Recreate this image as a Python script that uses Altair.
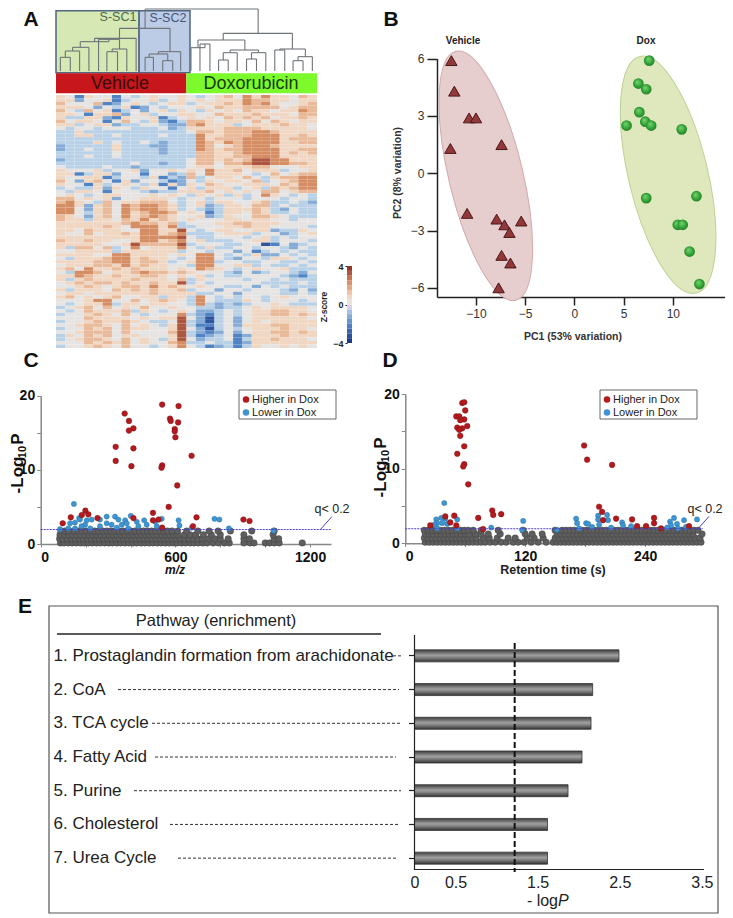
import altair as alt
import pandas as pd

W, H = 717, 906
FONT = "Liberation Sans"

def X(p): return p - 8
def Y(p): return p - 8
def S(domain, rng): return alt.Scale(domain=domain, range=rng, nice=False, zero=False)

# ---------- Panel A data ----------
heat_rows = [
"5415441434544543456475755465","5524451344534545455576655455","6444612454345534556576754456",
"5554243512434445465566664566","6436451342453543545465545576","5541556245344554465556555466",
"5335521544513454546565645565","6455414643521366545546465455","5534552334432267555345556554",
"4344344433342355556666555554","3353333333333346656667765555","3355334333343337556667775565",
"3333333333333337566677775666","3333534334323337657677775566","2333335333223337645677765555",
"2334335333323337656677775566","3333334333323336655677775656","3334334333333336655667775555",
"2333333333333346656568877555","3333333343323346646678877665","4333343323333345545556644455",
"5444534452445454755645553445","5513552441442364755543464566","5445513443513263455464356677",
"6425641524431243545546345677","5441534543515254654455546577","3433525435441453555345365677",
"4355414443233555645454664566","4543455444545435453534754343","6645452445554344344434443443",
"6754364556664345355445633432","7752564767765345235546634333","7742564767765343235556532433",
"7743564756776454135546533433","6542564756765445235446654333","6553554657565454445545544344",
"5555555676656344455665554444","5555565477757334445565544443","5546555447755843455445523354",
"5446455657756733345553442345","5555555557777843344434534344","6556554457756745333445534443",
"5555544586666834443344014234","5366463474555743533443443243","4455553555555344344241343433",
"5555447755554547743435224343","4355567756554347743244355434","5555667756653457734433443343",
"4555665756554437744553433434","5647556565554547654345445333","4377645567665654443242344324",
"5576556556654545343344443213","5356555565554635444434434333","4565665655655834344444333343",
"4456545665756545443342434333","5355546565655634424434443242","4554555555655553344244443343",
"5645456445535537434344345444","4445774464565437433354344434","4345573554554437323234454333",
"3456464546445443323345455554","4346555635434542234345566554","3445654643444732134345566565",
"4446555545455842034245555554","3445655654334832034245455555","4456654645435831134255566555",
"3446564655445842034345556554","4456664644446832124245566565","3546564554445831234125556555",
"3456654645435842334135565554","4446565645446733433125555555","3445654644345743123135445454",
]
level_z = [-3.4, -2.4, -1.5, -0.7, 0.0, 0.55, 1.2, 2.1, 3.0]
z_stops = [-4, -2.4, -0.7, 0, 0.7, 2.2, 4]
z_cols = ["#1f3a84", "#4f83c4", "#b9d1e7", "#e6e4e2", "#f3d3bb", "#d3885e", "#7a1020"]
colorbar_z = [-4, -3.5, -3, -2.5, -2, -1.5, -1, -0.5, 0, 0.5, 1, 1.5, 2, 2.5, 3, 3.5]

# brackets: left x, right x, top, left bottom, right bottom (dendrogram units)
dendro = [
(90,120,172,213,213),(105,148,153,172,213),(127,176,142,153,213),(230,262,155,213,213),
(246,290,147,155,213),(205,268,118,213,147),(150,236,125,142,118),(193,318,115,125,213),
(345,370,172,213,213),(398,428,182,213,213),(357,413,162,172,182),(385,452,155,162,213),
(268,420,85,115,155),(345,685,27,85,100),(510,540,132,213,213),(483,525,143,213,132),
(566,595,180,213,213),(580,622,158,180,213),(650,680,177,213,213),(665,708,158,177,213),
(601,686,150,158,158),(504,645,120,143,150),(735,765,150,213,213),(790,820,182,213,213),
(805,848,170,182,213),(750,827,147,150,170),(580,788,100,120,147),
]

# ---------- Panel B data ----------
veh_pc1 = [-12.5,-12.2,-10.7,-10.0,-12.6,-7.4,-10.9,-7.9,-7.1,-5.4,-6.6,-7.4,-6.5,-7.7]
veh_pc2 = [5.9,4.3,2.9,2.9,1.3,1.5,-2.1,-2.4,-2.7,-2.5,-3.1,-4.3,-4.7,-6.0]
dox_pc1 = [7.6,6.5,7.3,6.6,7.2,7.8,5.3,10.9,12.4,7.3,10.5,11.0,11.7,12.7]
dox_pc2 = [5.9,4.7,4.4,3.2,2.7,2.5,2.5,2.3,-1.2,-1.3,-2.7,-2.7,-4.1,-5.8]

# ---------- Panel C data ----------
c_red_x = [374,393,413,393,334,413,334,404,541,614,576,579,612,597,597,600,672,541,538,608,570,500,694,903,930,98,134,199,183,212,253,413,500,525,541,678]
c_red_y = [17.6,16.6,15.6,15.3,13.1,12.9,11.2,10.5,18.8,18.6,16.9,16.6,16.4,15.5,15.2,14.4,11.9,10.6,10.3,7.9,5.0,4.2,3.6,3.3,3.1,2.8,3.6,4.5,3.9,4.0,3.5,3.5,3.2,3.3,2.2,2.4]
c_blue_x = [148,171,401,294,331,376,539,614,774,796,838,673,618,1037,131,153,175,205,198,227,264,264,294,316,346,361,383,390,428,461,435,472,510,517,86,123,182,221,339,153]
c_blue_y = [5.4,3.5,3.8,3.7,3.7,3.2,3.4,3.2,3.4,3.3,2.1,2.2,2.5,1.8,2.8,2.9,3.3,3.2,2.6,3.3,3.3,2.4,2.8,2.6,3.3,2.6,2.8,2.1,3.0,3.2,2.4,2.6,3.0,2.4,2.0,2.1,2.4,2.1,2.2,2.1]
c_gray_t1 = [88,104,123,140,158,177,194,213,230,249,266,285,303,320,339,356,375,392,411,428,447,464,483,500,519,536,555,572,591,608,628,645,666,683,702,722,741,768,792,818,840,905,932,950,1000,1020,1040,1062,1165]
c_gray_t2 = [84,100,118,137,154,172,190,208,226,244,262,280,298,316,334,352,370,388,406,424,442,460,478,496,514,532,550,568,586,604,622,640,660,680,700,720,748,775,800,835,905,930,1040,1060]
c_gray_t3 = [86,106,124,142,160,178,196,214,232,250,268,286,304,322,340,358,376,394,412,430,448,466,484,502,520,538,556,574,592,610,640,665,690,725,760,800,905,1035]
c_gray_t4 = [90,108,126,148,166,185,202,222,240,258,276,295,312,330,348,366,384,402,420,440,458,476,494,512,530,548,565,585,610,650,700,750,790,845,940,1040]

# ---------- Panel D data ----------
d_red_x = [57,59,60,51,54,59,55,52,57,62,54,55,59,52,59,58,63,49,40,45,51,25,73,87,88,96,78,179,182,207,194,197,211,227,232,241,249,249,256,284,198]
d_red_y = [18.8,18.9,17.8,17.0,17.0,16.6,16.5,15.5,15.4,15.7,15.2,14.4,13.0,12.0,10.6,10.3,7.9,3.7,3.6,2.8,2.4,2.4,3.4,4.4,3.8,3.9,1.9,13.1,11.2,10.5,4.9,4.2,3.3,3.2,2.3,2.3,3.4,2.7,2.0,2.3,3.1]
d_blue_x = [39,31,36,40,32,37,42,29,52,86,118,117,152,171,172,174,181,183,187,193,193,202,203,194,206,217,218,226,265,269,266,272,279,281,262,273,292,52,32]
d_blue_y = [5.4,3.2,3.4,3.3,2.7,2.7,2.6,2.5,3.2,2.1,3.0,1.8,1.8,3.3,2.7,2.0,2.7,2.6,2.2,3.7,3.2,3.8,3.1,2.5,2.1,2.8,2.4,2.3,2.9,3.4,2.4,2.6,3.1,2.2,2.1,2.0,3.2,2.0,2.0]
d_gray_t1 = [20,24,28,32,36,40,44,48,52,56,60,64,68,72,76,80,85,90,96,101,108,113,119,126,133,141,148,152,156,160,164,168,172,176,180,184,188,192,196,200,204,208,212,216,220,224,228,232,236,240,244,248,252,256,260,264,268,272,276,280,284,288,292,296]
d_gray_t2 = [19,23,27,31,35,39,43,47,51,55,59,63,67,71,78,84,92,103,110,122,129,138,150,154,158,162,166,170,174,178,182,186,190,194,198,202,206,210,214,218,222,226,230,234,238,242,246,250,254,258,262,266,270,274,278,282,286,290,295]
d_gray_t3 = [20,24,28,32,36,40,44,48,52,56,60,64,70,76,83,95,120,127,137,152,156,160,164,168,172,176,180,184,188,192,196,200,204,208,212,216,220,224,228,232,236,240,244,248,252,256,260,264,268,272,276,280,284,288,297]
d_gray_t4 = [19,23,27,31,35,39,43,47,51,55,59,63,68,76,93,118,150,157,161,165,169,173,177,181,185,189,193,197,201,205,209,213,217,221,225,229,233,237,241,245,249,253,257,261,265,269,273,277,281,285,289,293]

# ---------- Panel E data ----------
pathways = ["1. Prostaglandin formation from arachidonate","2. CoA","3. TCA cycle","4. Fatty Acid","5. Purine","6. Cholesterol","7. Urea Cycle"]
enrich = [2.49, 2.17, 2.15, 2.04, 1.87, 1.62, 1.62]
leader_start = [393, 118, 152, 155, 134, 170, 178]
leader_end = [402, 399, 400, 396, 401, 398, 397]
threshold = 1.22

layers = []

def txt(label, x, y, size=11, weight="normal", color="#222", angle=0, align="center", style="normal"):
    layers.append(alt.Chart(pd.DataFrame({"t": [label]})).mark_text(
        fontSize=size, fontWeight=weight, color=color, angle=angle, align=align,
        baseline="middle", fontStyle=style, font=FONT
    ).encode(text="t:N", x=alt.value(X(x)), y=alt.value(Y(y))))

# ---------- Panel A ----------
dx = S([77, 862], [X(56), X(317)])
dy = S([0, 213], [Y(0), Y(71)])
hm_cell = pd.DataFrame([
    {"c": c, "c2": c + 1, "r": r, "r2": r + 1, "z": level_z[int(ch)]}
    for r, row in enumerate(heat_rows) for c, ch in enumerate(row)
])
layers.append(alt.Chart(hm_cell).mark_rect(strokeWidth=0).encode(
    x=alt.X("c:Q", scale=S([0, 28], [X(56), X(317)]), axis=None), x2="c2:Q",
    y=alt.Y("r:Q", scale=S([0, len(heat_rows)], [Y(95), Y(348)]), axis=None), y2="r2:Q",
    color=alt.Color("z:Q", scale=alt.Scale(domain=z_stops, range=z_cols), legend=None)))

boxes = pd.DataFrame({"x": [77, 327], "x2": [327, 480], "y": [32, 32], "y2": [218, 218], "f": ["#d6e8b4", "#bccbe6"]})
layers.append(alt.Chart(boxes).mark_rect(stroke="#4f6580", strokeWidth=1.5).encode(
    x=alt.X("x:Q", scale=dx, axis=None), x2="x2:Q",
    y=alt.Y("y:Q", scale=dy, axis=None), y2="y2:Q",
    color=alt.Color("f:N", scale=None, legend=None)))

segs = []
for xl, xr, top, bl, br in dendro:
    segs += [(xl, xr, top, top), (xl, xl, top, bl), (xr, xr, top, br)]
layers.append(alt.Chart(pd.DataFrame(segs, columns=["x", "x2", "y", "y2"])).mark_rule(color="#6f7478", strokeWidth=1.1).encode(
    x=alt.X("x:Q", scale=dx, axis=None), x2="x2:Q",
    y=alt.Y("y:Q", scale=dy, axis=None), y2="y2:Q"))

group_bar = pd.DataFrame({"x": [77, 469], "x2": [469, 862], "f": ["#c8161d", "#7dfa2c"], "y": [220, 220], "y2": [280, 280]})
layers.append(alt.Chart(group_bar).mark_rect().encode(
    x=alt.X("x:Q", scale=dx, axis=None), x2="x2:Q",
    y=alt.Y("y:Q", scale=dy, axis=None), y2="y2:Q",
    color=alt.Color("f:N", scale=None, legend=None)))

txt("Vehicle", 120, 84, size=18, color="#3a0c0c")
txt("Doxorubicin", 251, 84, size=18, color="#143c08")
txt("S-SC1", 118, 17, size=12.5, color="#4d6b4d")
txt("S-SC2", 168, 18, size=12.5, color="#44557a")

cb = pd.DataFrame({"z": colorbar_z})
cb["z2"] = cb["z"] + 0.5
layers.append(alt.Chart(cb).mark_rect().encode(
    x=alt.value(X(347)), x2=alt.value(X(352)),
    y=alt.Y("z:Q", scale=S([-4, 4], [Y(343), Y(266)]),
            axis=alt.Axis(orient="left", offset=-X(347), values=[-4, 0, 4], title=None, domain=False,
                          tickSize=2, tickColor="#222", labelFontSize=9, labelFontWeight="bold", labelColor="#222",
                          labelPadding=2, grid=False, format="d", labelFont=FONT)),
    y2="z2:Q",
    color=alt.Color("z:Q", scale=alt.Scale(domain=z_stops, range=z_cols), legend=None)))
txt("Z-score", 324, 307, size=8.5, weight="bold", angle=270)

# ---------- Panel B ----------
bx = S([-13.96, 15.3], [X(437), X(725)])
by = S([-6.48, 6.0], [Y(297), Y(58.7)])
def ell(b, k=0.5523):
    return (f"M0,-1 C{k*b:.3f},-1 {b},{-k} {b},0 C{b},{k} {k*b:.3f},1 0,1 "
            f"C{-k*b:.3f},1 {-b},{k} {-b},0 C{-b},{-k} {-k*b:.3f},-1 0,-1 Z")
ell_veh = pd.DataFrame({"x": [-9.0], "y": [-0.13]})
ell_dox = pd.DataFrame({"x": [9.52], "y": [-0.08]})
layers.append(alt.Chart(ell_veh).mark_point(shape=ell(0.289), filled=True, size=65536, angle=346.5,
        fill="#e6cdce", stroke="#d3a9ab", strokeWidth=1, opacity=1).encode(
    x=alt.X("x:Q", scale=bx,
            axis=alt.Axis(orient="bottom", offset=Y(297) - H, values=[-10, -5, 0, 5, 10], title=None, grid=False,
                          domainColor="#222", domainWidth=1.5, tickColor="#222", tickWidth=1.5, tickSize=8,
                          labelFontSize=12, labelColor="#333", labelPadding=3, labelFont=FONT)),
    y=alt.Y("y:Q", scale=by,
            axis=alt.Axis(orient="left", offset=-X(437), values=[-6, -3, 0, 3, 6], title=None, grid=False,
                          domainColor="#222", domainWidth=1.5, tickColor="#222", tickWidth=1.5, tickSize=10,
                          labelFontSize=12, labelColor="#333", labelPadding=3, labelFont=FONT))))
layers.append(alt.Chart(ell_dox).mark_point(shape=ell(0.326), filled=True, size=59150, angle=346.6,
        fill="#dfe8bd", stroke="#bdd093", strokeWidth=1, opacity=1).encode(
    x=alt.X("x:Q", scale=bx, axis=None), y=alt.Y("y:Q", scale=by, axis=None)))
layers.append(alt.Chart(pd.DataFrame({"x": veh_pc1, "y": veh_pc2})).mark_point(
        shape="triangle-up", filled=True, size=130, fill="#93383a", stroke="#4a1818", strokeWidth=1, opacity=1).encode(
    x=alt.X("x:Q", scale=bx, axis=None), y=alt.Y("y:Q", scale=by, axis=None)))
green = alt.Gradient(gradient="radial", x1=0.4, y1=0.35, r1=0.05, x2=0.5, y2=0.5, r2=0.6,
                     stops=[alt.GradientStop(offset=0, color="#6fd06a"), alt.GradientStop(offset=0.6, color="#2f9f33"),
                            alt.GradientStop(offset=1, color="#1c6e22")])
layers.append(alt.Chart(pd.DataFrame({"x": dox_pc1, "y": dox_pc2})).mark_point(
        shape="circle", filled=True, size=115, color=green, opacity=1).encode(
    x=alt.X("x:Q", scale=bx, axis=None), y=alt.Y("y:Q", scale=by, axis=None)))
txt("Vehicle", 463, 41, size=10, weight="bold")
txt("Dox", 646, 41, size=10, weight="bold")
txt("PC1 (53% variation)", 573, 337, size=10.5, weight="bold", color="#333")
txt("PC2 (8% variation)", 398, 173, size=10.5, weight="bold", color="#333", angle=270)

# ---------- Panels C / D ----------
def volcano(x0, x1, dom_end, y20, y0, ticks, lab_every, reds, blues, grays, q_seg, q_txt, leg_x, title_y, log_x):
    sx = S([0, dom_end], [X(x0), X(x1)])
    sy = S([0, 20], [Y(y0), Y(y20)])
    rows = []
    for yv, xs in zip([0.15, 0.7, 1.25, 1.75], grays):
        rows += [{"x": v, "y": yv} for v in xs]
    layers.append(alt.Chart(pd.DataFrame(rows)).mark_circle(size=42, color="#5e5e5e", stroke="#3a3a3a", strokeWidth=0.4, opacity=1).encode(
        x=alt.X("x:Q", scale=sx, axis=alt.Axis(orient="bottom", offset=Y(y0) - H, values=ticks, title=None, grid=False,
                domainColor="#888", domainWidth=1.5, tickColor="#888", tickSize=3, labelFontSize=14, labelFontWeight="bold",
                labelColor="#111", labelPadding=3, labelFont=FONT, labelOverlap=False,
                labelExpr=f"datum.value % {lab_every} == 0 ? datum.label : ''", format="d")),
        y=alt.Y("y:Q", scale=sy, axis=alt.Axis(orient="left", offset=-X(x0), values=[0, 5, 10, 15, 20], title=None, grid=False,
                domainColor="#888", domainWidth=1.5, tickColor="#888", tickSize=4, labelFontSize=14, labelFontWeight="bold",
                labelColor="#111", labelPadding=2, labelFont=FONT, labelOverlap=False,
                labelExpr="datum.value % 10 == 0 ? datum.label : ''"))))
    layers.append(alt.Chart(pd.DataFrame({"x": blues[0], "y": blues[1]})).mark_circle(size=27, color="#3f95d2", stroke="#1f6aa0", strokeWidth=0.4, opacity=1).encode(
        x=alt.X("x:Q", scale=sx, axis=None), y=alt.Y("y:Q", scale=sy, axis=None)))
    layers.append(alt.Chart(pd.DataFrame({"x": reds[0], "y": reds[1]})).mark_circle(size=32, color="#b31a1e", stroke="#7a1014", strokeWidth=0.4, opacity=1).encode(
        x=alt.X("x:Q", scale=sx, axis=None), y=alt.Y("y:Q", scale=sy, axis=None)))
    layers.append(alt.Chart(pd.DataFrame({"x": [0], "x2": [dom_end], "y": [1.95]})).mark_rule(color="#4b3fc0", strokeWidth=1, strokeDash=[2, 1]).encode(
        x=alt.X("x:Q", scale=sx, axis=None), x2="x2:Q", y=alt.Y("y:Q", scale=sy, axis=None)))
    layers.append(alt.Chart(pd.DataFrame([q_seg], columns=["x", "x2", "y", "y2"])).mark_rule(color="#4b3fc0", strokeWidth=1).encode(
        x=alt.X("x:Q", scale=sx, axis=None), x2="x2:Q", y=alt.Y("y:Q", scale=sy, axis=None), y2="y2:Q"))
    txt("q< 0.2", q_txt, 509, size=12.5, color="#222")
    layers.append(alt.Chart(pd.DataFrame({"a": [1]})).mark_rect(fill="white", stroke="#666", strokeWidth=1).encode(
        x=alt.value(X(leg_x)), x2=alt.value(X(leg_x + 97)), y=alt.value(Y(390)), y2=alt.value(Y(419))))
    layers.append(alt.Chart(pd.DataFrame({"a": [1]})).mark_circle(size=42, color="#b31a1e", opacity=1).encode(
        x=alt.value(X(leg_x + 7)), y=alt.value(Y(399.5))))
    layers.append(alt.Chart(pd.DataFrame({"a": [1]})).mark_circle(size=42, color="#3f95d2", opacity=1).encode(
        x=alt.value(X(leg_x + 7)), y=alt.value(Y(412.5))))
    txt("Higher in Dox", leg_x + 13, 399.5, size=11, align="left")
    txt("Lower in Dox", leg_x + 13, 412.5, size=11, align="left")
    txt("-Log", log_x, title_y, size=17, weight="bold", color="#111", angle=270)
    txt("10", log_x + 5, title_y - 23, size=11, weight="bold", color="#111", angle=270)
    txt("P", log_x, title_y - 36, size=17, weight="bold", color="#111", angle=270)

volcano(40.7, 331, 1293, 395.7, 544, [0, 200, 400, 600, 800, 1000, 1200], 600,
        (c_red_x, c_red_y), (c_blue_x, c_blue_y), [c_gray_t1, c_gray_t2, c_gray_t3, c_gray_t4],
        (1245, 1297, 1.93, 3.7), 332, 239, 475, 18)
txt("m/z", 175, 570, size=12, weight="bold", style="italic", color="#111")
volcano(405.3, 703, 298, 394, 543.3, [0, 60, 120, 180, 240], 120,
        (d_red_x, d_red_y), (d_blue_x, d_blue_y), [d_gray_t1, d_gray_t2, d_gray_t3, d_gray_t4],
        (292, 304, 1.8, 3.6), 705, 600, 479, 381)
txt("Retention time (s)", 553, 570, size=12.5, weight="bold", color="#222")

# ---------- Panel E ----------
layers.append(alt.Chart(pd.DataFrame({"a": [1]})).mark_rect(filled=False, stroke="#555", strokeWidth=1.2).encode(
    x=alt.value(X(49)), x2=alt.value(X(718)), y=alt.value(Y(606)), y2=alt.value(Y(913))))
ex = S([0, 3.52], [X(414.5), X(703.5)])
ey = alt.Scale(domain=pathways, range=[Y(639), Y(875)])
bar_fill = alt.Gradient(gradient="linear", x1=0, x2=0, y1=0, y2=1, stops=[
    alt.GradientStop(offset=0, color="#3e3e3e"), alt.GradientStop(offset=0.45, color="#a0a0a0"),
    alt.GradientStop(offset=0.6, color="#8a8a8a"), alt.GradientStop(offset=1, color="#333333")])
e_df = pd.DataFrame({"p": pathways, "v": enrich, "z": [0] * 7, "s": leader_start, "e": leader_end})
layers.append(alt.Chart(e_df).mark_bar(size=12, color=bar_fill, stroke="#333", strokeWidth=0.8).encode(
    x=alt.X("z:Q", scale=ex, axis=alt.Axis(orient="bottom", offset=Y(869) - H, values=[0, 0.5, 1.5, 2.5, 3.5], title=None, grid=False,
            domainColor="#222", domainWidth=1.2, ticks=False, labelFontSize=16, labelColor="#222", labelPadding=5, labelFont=FONT,
            labelExpr="datum.value == 0 ? '0' : format(datum.value, '.1f')", labelOverlap=False, labelFlush=False)),
    x2="v:Q",
    y=alt.Y("p:N", scale=ey, sort=None, axis=alt.Axis(orient="left", offset=-X(414.5), title=None, labels=False, domain=False,
            tickColor="#222", tickSize=6, tickWidth=1.2, grid=False))))
layers.append(alt.Chart(pd.DataFrame({"x": [0], "y": [635], "y2": [870]})).mark_rule(color="#222", strokeWidth=1.2).encode(
    x=alt.X("x:Q", scale=ex, axis=None),
    y=alt.Y("y:Q", scale=alt.Scale(domain=[0, H], range=[-8, H - 8], nice=False, zero=False), axis=None), y2="y2:Q"))
layers.append(alt.Chart(pd.DataFrame({"x": [threshold], "y": [643], "y2": [872]})).mark_rule(color="#111", strokeWidth=2, strokeDash=[6, 3]).encode(
    x=alt.X("x:Q", scale=ex, axis=None),
    y=alt.Y("y:Q", scale=alt.Scale(domain=[0, H], range=[-8, H - 8], nice=False, zero=False), axis=None), y2="y2:Q"))
layers.append(alt.Chart(e_df).mark_rule(color="#333", strokeWidth=1, strokeDash=[3, 2]).encode(
    x=alt.X("s:Q", scale=alt.Scale(domain=[0, W], range=[-8, W - 8], nice=False, zero=False), axis=None), x2="e:Q",
    y=alt.Y("p:N", scale=ey, sort=None, axis=None)))
layers.append(alt.Chart(e_df).mark_text(align="left", baseline="middle", fontSize=17, color="#222", font=FONT).encode(
    text="p:N", x=alt.value(X(53.5)), y=alt.Y("p:N", scale=ey, sort=None, axis=None)))
txt("Pathway (enrichment)", 216, 621, size=16.5)
layers.append(alt.Chart(pd.DataFrame({"a": [1]})).mark_rule(color="#222", strokeWidth=1.5).encode(
    x=alt.value(X(57)), x2=alt.value(X(381)), y=alt.value(Y(634))))
txt("- log", 558, 901, size=16, align="right")
txt("P", 558, 901, size=16, align="left", style="italic")

# ---------- Panel letters ----------
txt("A", 31, 20, size=21, weight="bold", color="#111")
txt("B", 391, 20, size=21, weight="bold", color="#111")
txt("C", 31, 361, size=21, weight="bold", color="#111")
txt("D", 390, 361, size=21, weight="bold", color="#111")
txt("E", 25, 607, size=21, weight="bold", color="#111")

chart = alt.layer(*layers).resolve_scale(x="independent", y="independent", color="independent").resolve_axis(
    x="independent", y="independent"
).properties(width=W, height=H, padding=0, autosize=alt.AutoSizeParams(type="none")).configure_view(stroke=None)

chart.save("out.html", embed_options={"renderer": "svg", "actions": False})
